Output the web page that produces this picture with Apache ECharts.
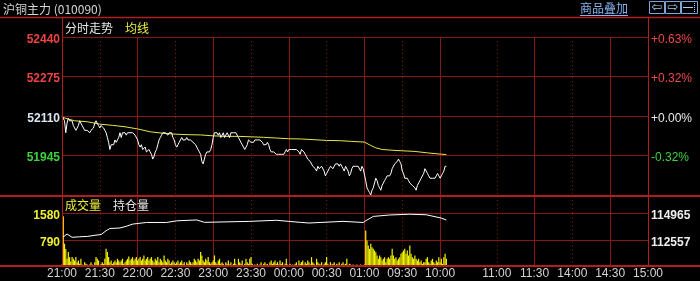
<!DOCTYPE html>
<html><head><meta charset="utf-8">
<script src="https://cdn.jsdelivr.net/npm/echarts@6/dist/echarts.min.js"></script>
<style>html,body{margin:0;padding:0;background:#000;}#c{width:700px;height:281px;}</style>
</head><body><div id="c"></div>
<script>
// ---- data ----
const sessions = [['21:00','01:00'],['09:00','10:15'],['10:30','11:30'],['13:30','15:00']];
const tickLabels = ['21:00','21:30','22:00','22:30','23:00','23:30','00:00','00:30','01:00','09:30','10:00','11:00','11:30','14:00','14:30','15:00'];
const solidTicks = ['22:00','23:00','00:00','01:00','10:00','11:30','14:30'];
const dottedTicks = ['21:30','22:30','23:30','00:30','09:30','11:00','14:00'];
const priceTicks = [51780, 51945, 52110, 52275, 52440];
const pctLabels = ['', '-0.32%', '+0.00%', '+0.32%', '+0.63%'];
const basePrice = 52110;
const volTicks = [0, 790, 1580];
const oiTicks = [110149, 112557, 114965];

const price = [
52110,52110,52090,52040,52080,52100,52090,52090,52090,52070,
52060,52050,52050,52070,52090,52080,52070,52070,52050,52050,
52050,52050,52040,52050,52050,52060,52080,52090,52080,52070,
52060,52070,52070,52060,52050,52040,52020,52000,51970,51990,
51990,51990,52010,52000,52010,52020,52040,52020,52040,52040,
52040,52030,52040,52040,52040,52040,52040,52040,52030,52030,
52010,51990,51980,51990,51970,51970,51980,51960,51960,51970,
51960,51950,51930,51940,51960,51970,51990,52010,52020,52030,
52040,52040,52040,52040,52030,52040,52040,52040,52020,52010,
51990,51980,51990,52000,52010,52020,52010,52010,52010,52020,
52010,52010,52010,52010,52000,52000,51990,51980,51970,51960,
51950,51920,51910,51930,51950,51960,51960,51960,51970,51990,
52020,52040,52040,52040,52030,52040,52020,52030,52040,52020,
52030,52040,52030,52020,52040,52040,52040,52040,52040,52030,
52020,52020,52000,51990,51980,51970,51980,51990,52010,52010,
52000,52000,52000,52010,52010,52010,52010,52010,52010,52000,
51990,51990,51990,52000,51990,51970,51960,51960,51960,51960,
51950,51950,51950,51950,51950,51950,51950,51960,51970,51960,
51970,51970,51970,51970,51970,51970,51970,51970,51960,51950,
51970,51970,51960,51950,51940,51930,51930,51920,51920,51900,
51900,51890,51880,51900,51890,51890,51900,51900,51880,51860,
51870,51880,51890,51900,51900,51890,51900,51910,51910,51910,
51900,51910,51900,51890,51880,51900,51900,51880,51860,51870,
51890,51900,51900,51900,51900,51900,51900,51880,51900,51890,
51890,51840,51810,51800,51790,51780,51800,51810,51830,51850,
51840,51820,51810,51800,51820,51830,51840,51850,51860,51860,
51860,51870,51890,51900,51910,51910,51920,51930,51920,51910,
51880,51870,51850,51850,51850,51840,51830,51830,51820,51820,
51810,51800,51820,51830,51840,51850,51850,51870,51890,51880,
51870,51860,51850,51850,51850,51850,51850,51860,51870,51860,
51850,51860,51870,51880,51900,51900
];

const avgLine = [
[0,52105],[10,52090],[20,52086],[30,52076],[40,52071],[50,52065],[60,52056],[70,52044],
[80,52038],[90,52034],[100,52032],[110,52031],[120,52027],[130,52025],[140,52025],[150,52023],
[160,52021],[170,52018],[180,52015],[190,52014],[200,52011],[210,52008],[220,52007],[230,52004],
[240,52001],[245,51987],[249,51977],[254,51970],[265,51966],[280,51962],[290,51956],[300,51951],[305,51949]
];

const volume = [
60,1500,680,520,230,430,280,150,280,230,
180,280,130,180,80,230,60,40,130,80,
60,30,60,130,60,30,130,280,230,180,
40,80,130,80,230,530,430,280,130,180,
80,130,180,130,230,180,130,180,230,80,
130,180,230,300,180,230,280,180,230,280,
180,230,280,180,230,330,180,230,280,180,
230,280,180,130,230,180,280,130,230,180,
130,330,180,130,230,180,80,130,180,130,
80,130,180,80,130,180,80,130,40,130,
80,180,130,80,130,230,180,130,230,180,
430,330,180,130,230,180,280,130,80,130,
180,330,130,80,180,230,80,130,80,40,
130,80,180,60,130,40,80,230,80,40,
230,130,80,180,40,80,230,130,80,230,
280,80,40,60,40,80,40,60,130,40,
80,130,60,80,40,130,180,80,130,180,
80,130,60,180,80,130,40,80,230,60,
40,80,40,60,40,80,130,40,180,80,
130,180,60,130,80,180,130,60,280,130,
80,40,230,130,80,60,130,40,80,130,
280,80,40,130,60,80,130,40,80,60,
130,40,80,130,60,80,230,40,80,60,
40,60,30,40,60,30,40,60,30,40,
60,1070,775,626,526,676,576,526,477,427,
328,228,328,278,179,228,278,129,228,278,
228,328,526,328,228,278,179,228,278,377,
427,477,526,377,477,328,626,377,278,228,
328,228,179,228,129,179,80,129,129,228,
278,129,80,179,228,129,80,179,129,278,
129,228,80,278,377,228
];

const openInterest = [
[0,112750],[1,112800],[4,113100],[8,112800],[14,112850],[20,112880],[27,113000],[31,113050],
[35,113400],[38,113600],[46,113650],[51,113800],[56,114000],[67,114150],[83,114150],[91,114300],
[107,114380],[113,114160],[149,114250],[170,114350],[189,114160],[196,114100],[223,114250],
[239,114150],[241,114300],[247,114700],[260,114830],[276,114900],[289,114850],[301,114550],[305,114370]
];

// ---- categories (trading minutes) ----
function toMin(s){const p=s.split(':').map(Number);return p[0]*60+p[1];}
function fmt(t){t=((t%1440)+1440)%1440;const h=Math.floor(t/60),m=t%60;return (h<10?'0':'')+h+':'+(m<10?'0':'')+m;}
const categories = [];
sessions.forEach((s,i)=>{let a=toMin(s[0]),b=toMin(s[1]);if(b<a)b+=1440;for(let t=(i===0?a:a+1);t<=b;t++)categories.push(fmt(t));});

const GRID_C = '#8a1616';
const BORDER_C = '#b01e1e';
const NUMF = '"Liberation Sans", Arial, sans-serif';
const CJK = '"Noto Sans CJK SC", sans-serif';

function xAx(gridIndex, ticks, dotted, showLabel, pos){
  return {
    type:'category', gridIndex, data:categories, boundaryGap:false, position:pos,
    axisLine:{show:false}, axisTick:{show:false},
    axisLabel:{show:!!showLabel, interval:(i,v)=>tickLabels.indexOf(v)>=0, color:'#d4d4d4',
      fontFamily:NUMF, fontSize:12, margin:1, verticalAlign:'top'},
    splitLine:{show:true, interval:(i,v)=>ticks.indexOf(v)>=0,
      lineStyle:{color:GRID_C, width:1, type: dotted ? [1,3] : 'solid'}}
  };
}
function yLab(extra){
  return Object.assign({showMinLabel:false, fontFamily:NUMF, fontSize:12, verticalAlign:'top', lineHeight:5,
    formatter:(v)=>String(v)}, extra);
}

const chart = echarts.init(document.getElementById('c'), null, {renderer:'canvas'});
chart.setOption({
  animation:false,
  backgroundColor:'#000',
  grid:[
    {left:62, width:586, top:37, height:158, outerBoundsMode:'none'},
    {left:62, width:586, top:213.5, height:53, outerBoundsMode:'none'},
    {left:62, width:586, top:196, height:17.5, outerBoundsMode:'none'}
  ],
  xAxis:[
    xAx(0, solidTicks, false, false, 'bottom'),
    xAx(0, dottedTicks, true, false, 'top'),
    xAx(1, solidTicks, false, true, 'bottom'),
    xAx(1, dottedTicks, true, false, 'top'),
    xAx(2, solidTicks, false, false, 'bottom'),
    xAx(2, dottedTicks, true, false, 'top')
  ],
  yAxis:[
    {type:'value', gridIndex:0, position:'left', min:priceTicks[0], max:priceTicks[4], interval:priceTicks[1]-priceTicks[0],
      axisLine:{show:false}, axisTick:{show:false},
      splitLine:{show:true, lineStyle:{color:GRID_C, width:1}},
      axisLabel:yLab({margin:2, fontWeight:'bold',
        color:(v)=>{v=Number(v);return v>basePrice?'#ec4444':(v<basePrice?'#3cd23c':'#dce4f0');}})},
    {type:'value', gridIndex:0, position:'right', min:priceTicks[0], max:priceTicks[4], interval:priceTicks[1]-priceTicks[0],
      axisLine:{show:false}, axisTick:{show:false}, splitLine:{show:false},
      axisLabel:yLab({margin:3,
        formatter:(v)=>{const i=priceTicks.indexOf(Number(v));return i>=0?pctLabels[i]:'';},
        color:(v)=>{v=Number(v);return v>basePrice?'#f04848':(v<basePrice?'#3cd23c':'#e8e8e8');}})},
    {type:'value', gridIndex:1, position:'left', min:volTicks[0], max:volTicks[2], interval:volTicks[1]-volTicks[0],
      axisLine:{show:false}, axisTick:{show:false},
      splitLine:{show:true, lineStyle:{color:GRID_C, width:1}},
      axisLabel:yLab({margin:2, fontWeight:'bold', color:'#f0f030'})},
    {type:'value', gridIndex:1, position:'right', min:oiTicks[0], max:oiTicks[2], interval:oiTicks[1]-oiTicks[0],
      axisLine:{show:false}, axisTick:{show:false}, splitLine:{show:false},
      axisLabel:yLab({margin:3, fontWeight:'bold', color:'#eeeeee'})},
    {type:'value', gridIndex:2, min:0, max:1, axisLine:{show:false}, axisTick:{show:false}, axisLabel:{show:false}, splitLine:{show:false}}
  ],
  series:[
    {type:'line', name:'分时走势', xAxisIndex:0, yAxisIndex:0, data:price, symbol:'none',
      lineStyle:{color:'#ffffff', width:1}, silent:true, z:3},
    {type:'line', name:'均线', xAxisIndex:0, yAxisIndex:0, data:avgLine, symbol:'none',
      lineStyle:{color:'#e6e64a', width:1}, silent:true, z:2},
    {type:'bar', name:'成交量', xAxisIndex:2, yAxisIndex:2, data:volume, barWidth:1.2,
      itemStyle:{color:'#f2f200'}, silent:true},
    {type:'line', name:'持仓量', xAxisIndex:2, yAxisIndex:3, data:openInterest, symbol:'none',
      lineStyle:{color:'#ffffff', width:1}, silent:true, z:3}
  ],
  graphic:[
    // frame
    {type:'line', shape:{x1:0,y1:17.5,x2:700,y2:17.5}, style:{stroke:BORDER_C, lineWidth:1.5}, z:10},
    {type:'line', shape:{x1:0,y1:196,x2:700,y2:196}, style:{stroke:BORDER_C, lineWidth:2}, z:10},
    {type:'line', shape:{x1:0,y1:266,x2:700,y2:266}, style:{stroke:BORDER_C, lineWidth:2}, z:10},
    {type:'line', shape:{x1:62.5,y1:17,x2:62.5,y2:267}, style:{stroke:BORDER_C, lineWidth:1}, z:10},
    {type:'line', shape:{x1:648.5,y1:17,x2:648.5,y2:267}, style:{stroke:BORDER_C, lineWidth:1}, z:10},
    // header texts
    {type:'text', x:3, y:9, style:{text:'沪铜主力 (010090)', fill:'#d6d6d6', font:'12px '+CJK, verticalAlign:'middle'}, z:11},
    {type:'text', x:580, y:8, style:{text:'商品叠加', fill:'#86b4f0', font:'12px '+CJK, verticalAlign:'middle'}, z:11},
    {type:'line', shape:{x1:580,y1:15.5,x2:628,y2:15.5}, style:{stroke:'#86b4f0', lineWidth:1}, z:11},
    {type:'rect', shape:{x:649.5,y:1.5,width:15,height:12}, style:{fill:'#000', stroke:'#7ea6d8', lineWidth:1}, z:11},
    {type:'rect', shape:{x:665.5,y:1.5,width:15,height:12}, style:{fill:'#000', stroke:'#7ea6d8', lineWidth:1}, z:11},
    {type:'rect', shape:{x:681.5,y:1.5,width:16,height:12}, style:{fill:'#000', stroke:'#7ea6d8', lineWidth:1}, z:11},
    {type:'text', x:657, y:8, style:{text:'⇦', fill:'#a8c8f0', font:'13px "DejaVu Sans"', align:'center', verticalAlign:'middle'}, z:12},
    {type:'text', x:673, y:8, style:{text:'⇨', fill:'#a8c8f0', font:'13px "DejaVu Sans"', align:'center', verticalAlign:'middle'}, z:12},
    {type:'line', shape:{x1:683,y1:7.5,x2:693,y2:7.5}, style:{stroke:'#a8c8f0', lineWidth:1}, z:12},
    {type:'line', shape:{x1:694.5,y1:3,x2:694.5,y2:12}, style:{stroke:'#a8c8f0', lineWidth:1, lineDash:[1,1]}, z:12},
    // panel captions
    {type:'text', x:65, y:28, style:{text:'分时走势', fill:'#e6e6e6', font:'12px '+CJK, verticalAlign:'middle'}, z:11},
    {type:'text', x:125, y:28, style:{text:'均线', fill:'#ecec3c', font:'12px '+CJK, verticalAlign:'middle'}, z:11},
    {type:'text', x:65, y:205.5, style:{text:'成交量', fill:'#ecec3c', font:'12px '+CJK, verticalAlign:'middle'}, z:11},
    {type:'text', x:113, y:205.5, style:{text:'持仓量', fill:'#e6e6e6', font:'12px '+CJK, verticalAlign:'middle'}, z:11}
  ]
});
</script>
</body></html>
